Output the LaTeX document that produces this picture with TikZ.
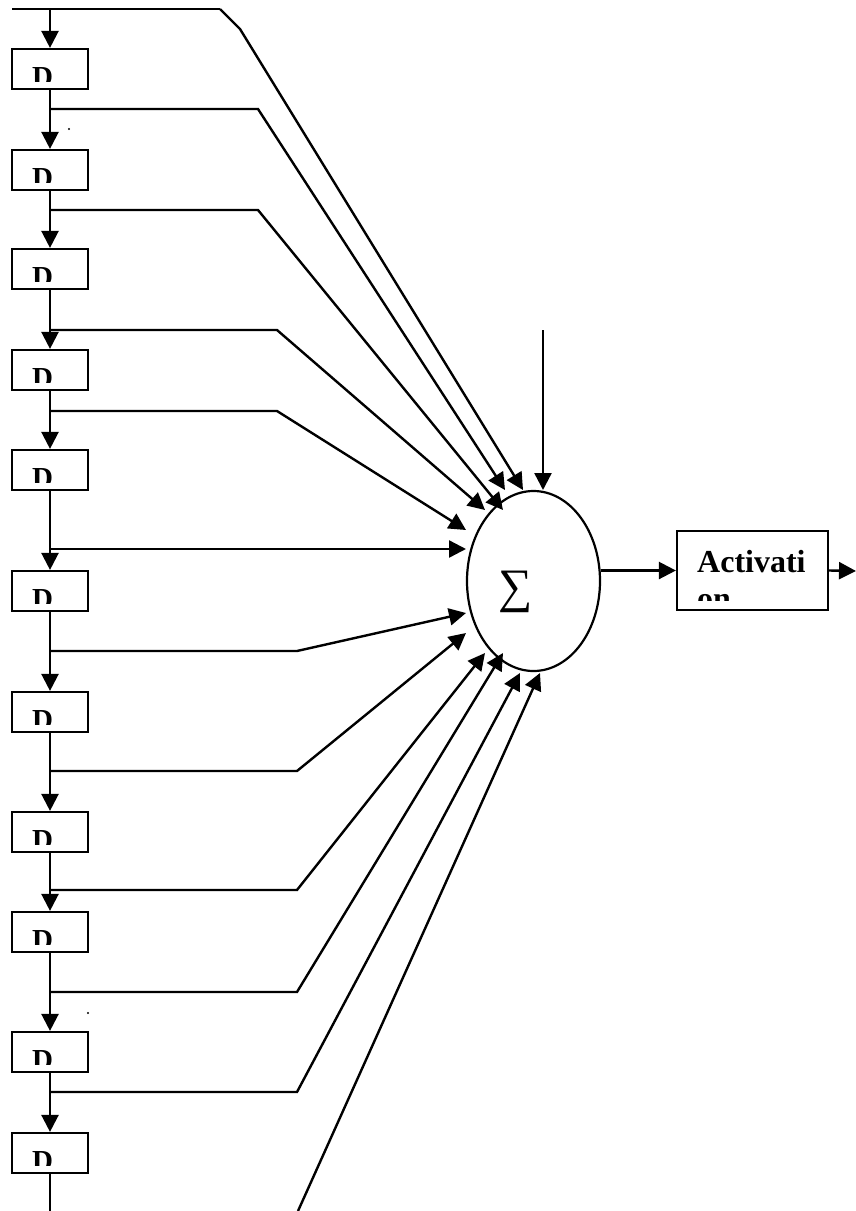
\documentclass[tikz,border=0pt]{standalone}
\usepackage{fontspec}
\setmainfont{Liberation Serif}
\usetikzlibrary{arrows.meta,shapes.geometric}
\begin{document}
\begin{tikzpicture}[x=1pt,y=-1pt,
  ln/.style={line width=2.4pt,line join=miter},
  arr/.style={ln,-{Triangle[length=17pt,width=17pt]}},
  dbox/.style={draw,line width=2.2pt,minimum width=76pt,minimum height=40pt,inner sep=0pt},
  lbl/.style={font=\bfseries\fontsize{29}{33}\selectfont,inner sep=0pt,anchor=base},
  actlbl/.style={font=\bfseries\fontsize{32}{37}\selectfont,inner sep=0pt,anchor=base west}
]
\useasboundingbox (0,0) rectangle (856,1211);

% delay boxes
\foreach \i/\y in {1/69,2/170,3/269,4/370,5/470,6/591,7/712,8/832,9/932,10/1052,11/1153}{
  \node[dbox] (b\i) at (50,\y) {};
  \begin{scope}
    \clip (b\i.north west) rectangle ([yshift=9pt]b\i.south east);
    \node[lbl] (d\i) at (42.5,\y+17) {D};
  \end{scope}
}

% summing node
\node[draw,ellipse,line width=2.2pt,minimum width=133pt,minimum height=180pt,inner sep=0pt] (sum) at (533.5,581) {};
\node[font=\fontsize{48}{48}\selectfont,inner sep=0pt] (sig) at (516,592) {∑};

% activation box
\node[draw,line width=2.2pt,minimum width=151pt,minimum height=79pt,inner sep=0pt] (act) at (752.5,570.5) {};
\begin{scope}
  \clip (act.north west) rectangle (828,600);
  \node[actlbl] (a1) at (697,572) {Activati};
  \node[actlbl] (a2) at (697,609) {on};
\end{scope}

% coordinates: junctions on the delay line, bends, arrow tips
\coordinate (s0) at (12,9);
\coordinate (j0) at (50,9);
\coordinate (k0) at (220,9);
\coordinate (m0) at (240,29);
\foreach \n/\y/\bx in {1/109/258,2/210/258,3/330/277,4/411/277,5/549/297,6/651/297,7/771/297,8/890/297,9/992/297,10/1092/297}{
  \coordinate (j\n) at (50,\y);
  \coordinate (k\n) at (\bx,\y);
}
\coordinate (t0) at (523,490);
\coordinate (t1) at (505,490);
\coordinate (t2) at (503,510);
\coordinate (t3) at (485,510);
\coordinate (t4) at (466,530);
\coordinate (t5) at (466,549);
\coordinate (t6) at (466,613);
\coordinate (t7) at (466,633);
\coordinate (t8) at (485,653);
\coordinate (t9) at (503,653);
\coordinate (t10) at (520,673);
\coordinate (t11) at (540,673);
\coordinate (free) at (298,1211);
\coordinate (bias) at (543,330);
\coordinate (tb) at (543,490);
\coordinate (bot) at (50,1211);
\coordinate (out) at (856,571);

% delay line
\draw[ln] (s0) -- (k0);
\draw[arr] (j0) -- (b1.north);
\foreach \a/\b in {1/2,2/3,3/4,4/5,5/6,6/7,7/8,8/9,9/10,10/11}{
  \draw[arr] (b\a.south) -- (b\b.north);
}
\draw[ln] (b11.south) -- (bot);

% taps
\draw[arr] (k0) -- (m0) -- (t0);
\draw[arr] (j1) -- (k1) -- (t1);
\draw[arr] (j2) -- (k2) -- (t2);
\draw[arr] (j3) -- (k3) -- (t3);
\draw[arr] (j4) -- (k4) -- (t4);
\draw[arr] (j5) -- (t5);
\draw[arr] (j6) -- (k6) -- (t6);
\draw[arr] (j7) -- (k7) -- (t7);
\draw[arr] (j8) -- (k8) -- (t8);
\draw[arr] (j9) -- (k9) -- (t9);
\draw[arr] (j10) -- (k10) -- (t10);
\draw[arr] (free) -- (t11);
\draw[arr] (bias) -- (tb);

% output
\draw[arr] (sum.east |- act.west) -- (act.west);
\draw[arr] (act.east) -- (out);

% stray dots
\fill (69,129) circle (1.2pt);
\fill (88,1013) circle (1.2pt);
\end{tikzpicture}
\end{document}
